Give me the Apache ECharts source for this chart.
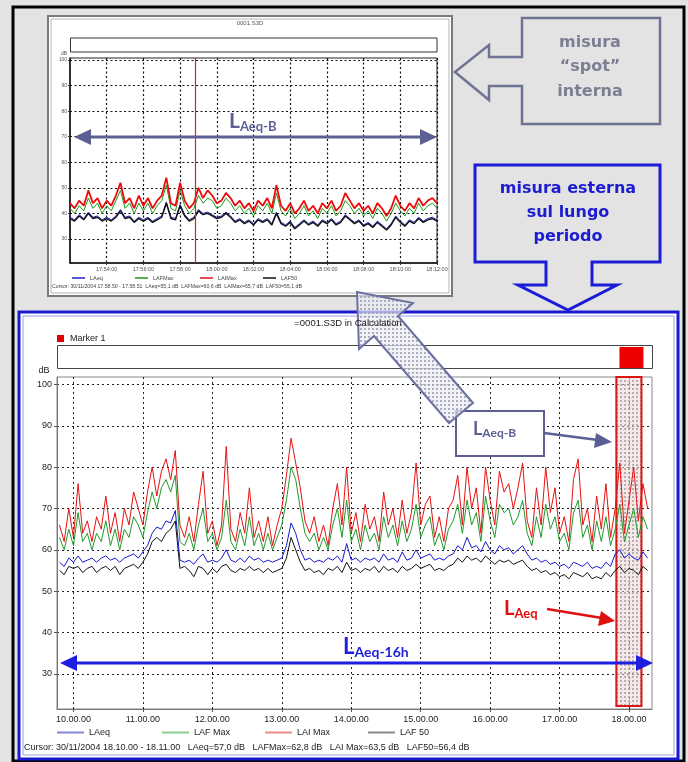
<!DOCTYPE html>
<html><head><meta charset="utf-8">
<script src="https://cdn.jsdelivr.net/npm/echarts@6/dist/echarts.min.js"></script>
<style>html,body{margin:0;padding:0;background:#e3e3e3}#c{width:688px;height:762px}</style>
</head><body><div id="c"></div>
<script>
// ---------- Bottom chart (long period) : minutes since midnight ----------
const bottomStartMin = 588, bottomStepMin = 4;
const bottomLAIMax = [66,62,70,63,76,64,67,62,68,65,73,64,69,62,70,66,
  74,70,66,74,80,73,79,82,77,84,
  66,63,68,62,71,79,64,67,61,66,
  85,65,62,69,64,75,63,67,62,68,61,66,
  70,78,87,81,75,67,64,68,62,66,61,70,
  76,66,80,64,69,62,71,65,68,62,
  74,66,70,63,72,64,69,81,66,71,
  73,63,68,62,70,72,78,66,80,70,
  75,64,80,72,66,79,74,76,70,75,
  81,67,63,75,66,80,69,75,64,68,
  62,77,82,66,70,62,73,65,76,63,
  70,81,64,72,80,67,76,70];
const bottomLAFMax = [63,60,65,61,69,62,64,60,64,62,67,61,65,60,65,63,
  68,66,63,69,74,70,75,77,74,78,
  62,61,64,60,66,70,62,64,60,63,
  72,62,60,65,61,68,61,64,60,64,60,63,
  66,72,80,77,70,64,62,64,60,63,60,66,
  70,63,72,62,65,60,66,62,64,60,
  68,63,66,61,67,62,65,71,63,66,
  68,61,64,60,65,67,71,64,72,66,
  69,62,73,67,63,71,69,70,66,68,
  72,64,61,68,63,71,65,68,62,64,
  60,69,72,63,66,60,67,62,68,61,
  65,71,62,66,70,63,68,65];
const bottomLAeq = [57,56,58,57,58.5,57,57.5,58,57,58,58.5,57.5,58,57,58,58.5,
  59,58,59.5,61,64,65.5,65,67,66.5,69.5,
  57.5,57,57.5,56.5,58,59,57,57.5,57,58,
  60,57.5,57,58,57,58.5,57.5,58,57,57.5,57,57.5,
  58,61,66.5,64,60,57.5,58,57,57.5,57,58,57.5,
  58.5,57,61.5,57.5,58,57,58,57.5,58,57,
  59,57.5,58,57,59.5,57.5,58,60,58,58.5,
  59,57.5,58,57.5,58.5,59,61,60,63,60.5,
  61,59.5,62,60,59,61,60,60.5,59,60,
  61,59,57.5,58,57,57.5,56.5,57,56,56.5,
  55.5,57,56.5,56,57,55.5,56,55.5,57,56,
  59,60,58,59,58,57.5,59.5,58];
const bottomLAF50 = [55,54,56,55.5,56,54.5,55.5,56,54.5,55.5,56,55,56,54,55.5,56,
  56.5,55.5,57,59,62,63,62,64,65,67,
  55.5,56,55,53.5,56,55.5,54,55.5,54.5,56,
  56.5,55,54.5,55.5,55,56,55,55.5,54.5,55.5,54.5,55,
  55.5,58,63,60,57,55,55.5,54.5,55,54,55.5,55,
  56,54.5,57,55,55.5,54.5,55.5,55,56,54.5,
  56,55,55.5,54.5,56,55,55.5,56.5,55.5,56,
  56.5,55,55.5,55,56,56.5,58,57,58.5,57.5,
  58,57,58.5,57.5,56.5,57.5,57,57.5,56.5,57,
  57.5,56,55,55.5,54.5,55,54,54.5,53.5,54,
  53,54.5,54,53.5,54.5,53,53.5,53,54.5,53.5,
  55,56,54.5,55.5,55,54,56,55];
const bottomXTickValues = [600,660,720,780,840,900,960,1020,1080];
const bottomXTickLabels = ['10.00.00','11.00.00','12.00.00','13.00.00','14.00.00','15.00.00','16.00.00','17.00.00','18.00.00'];
const yTickValues = [30,40,50,60,70,80,90,100];
const bottomMarkerRange = [1069, 1090.7];      // hatched marker area (minutes)
const bottomMarkerBlock = [1071.7, 1092.4];    // red block in marker bar
const bottomLegendNames = ['LAeq','LAF Max','LAI Max','LAF 50'];
const topLegendNames = ['LAeq','LAFMax','LAIMax','LAF50'];

// ---------- Top chart (spot) : minutes since 17:52:00, 15 s step ----------
const topStepMin = 0.25;
const topLAIMax = [44,42,45,43,49,44,46,42,45,43,47,52,44,46,42,47,43,46,42,45,47,54,44,43,52,45,42,44,50,46,49,47,44,45,48,46,43,45,42,44,41,45,43,46,42,51,43,41,44,40,42,45,41,43,40,44,42,45,41,43,48,45,42,44,41,43,40,44,42,39,42,47,43,41,44,42,46,43,45,46,44];
const topLAFMax = [42,40,43,41,46,42,44,40,43,41,45,49,42,44,40,44,41,44,40,43,45,51,42,41,49,43,40,42,47,44,46,45,42,43,46,44,41,43,40,42,39,43,41,44,40,48,41,39,42,38,40,43,39,41,38,42,40,43,39,41,45,43,40,42,39,41,38,42,40,37,40,44,41,39,42,40,44,41,43,44,42];
const topLAeq = [38.5,37.5,39.5,38,40.5,38.5,39,37.5,38.5,37.5,39,41.5,38.5,39,37,38.5,37.5,38.5,37,38,39,44.5,38.5,38,43.5,39.5,37.5,38.5,41.5,40,40.5,39.5,38.5,39,40.5,39,37,38,36.5,37.5,36,38,37,38,36,40.5,36.5,35.5,37,34.5,36,37.5,36,37,35.5,37.5,36.5,38,36,37,39.5,38,36.5,37.5,35.5,36.5,35,37,35.5,34,36,39,37,35.5,37.5,36.5,38.5,37,38,38.5,37.5];
const topLAF50 = [38,37,39,37.5,40,38,38.5,37,38,37,38.5,41,38,38.5,36.5,38,37,38,36.5,37.5,38.5,44,38,37.5,43,39,37,38,41,39.5,40,39,38,38.5,40,38.5,36.5,37.5,36,37,35.5,37.5,36.5,37.5,35.5,40,36,35,36.5,34,35.5,37,35.5,36.5,35,37,36,37.5,35.5,36.5,39,37.5,36,37,35,36,34.5,36.5,35,33.5,35.5,38.5,36.5,35,37,36,38,36.5,37.5,38,37];
const topXTickValues = [2,4,6,8,10,12,14,16,18,20];
const topXTickLabels = ['17:54:00','17:56:00','17:58:00','18:00:00','18:02:00','18:04:00','18:06:00','18:08:00','18:10:00','18:12:00'];
const topCursorMin = 6.83;

// ---------- helpers ----------
function pairs(start, step, arr){ return arr.map((v,i)=>[start+i*step, v]); }
function pattern(bg, dot){
  const c=document.createElement('canvas'); c.width=4; c.height=4;
  const g=c.getContext('2d'); g.fillStyle=bg; g.fillRect(0,0,4,4);
  g.fillStyle=dot; g.fillRect(0,0,2,2);
  return {image:c, repeat:'repeat'};
}
const hatchGray = pattern('rgba(236,236,242,0.7)','rgba(160,162,185,0.85)');
const hatchRed = pattern('rgba(238,214,214,0.55)','rgba(140,140,140,0.6)');

const F = 'Liberation Sans, Arial, sans-serif';
const A = 'Lato, DejaVu Sans, sans-serif';
const C = 'DejaVu Sans, Lato, sans-serif';
const slate = '#5c5f94', blue = '#1c1cd2', grayTxt = '#7c7f91';

const chart = echarts.init(document.getElementById('c'), null, {width:688, height:762});

function subText(x, y, big, small, color, fb, fs){
  return [
    {type:'text', z:60, style:{text:big, x:x, y:y, fill:color, font:'bold '+fb+'px '+A, verticalAlign:'top'}},
    {type:'text', z:60, style:{text:small, x:x+fb*0.52, y:y+fb*0.42, fill:color, font:'bold '+fs+'px '+A, verticalAlign:'top'}}
  ];
}

const baseGraphics = [
  {type:'rect', z:-20, shape:{x:13,y:7,width:671,height:754}, style:{fill:'#e3e3e3', stroke:'#000', lineWidth:3}},
  {type:'rect', z:-10, shape:{x:48,y:16,width:404,height:280}, style:{fill:'#fff', stroke:'#7a7a7a', lineWidth:2}},
  {type:'rect', z:-9, shape:{x:51,y:19,width:398,height:274}, style:{fill:'#fff', stroke:'#b5b5b5', lineWidth:1}},
  {type:'rect', z:-10, shape:{x:19,y:312,width:659,height:447}, style:{fill:'#fff', stroke:'#1a1ad0', lineWidth:3}},
  {type:'rect', z:-9, shape:{x:23,y:316,width:651,height:439}, style:{fill:'#fff', stroke:'#9aa0e0', lineWidth:1}},
  {type:'rect', z:1, shape:{x:70.5,y:38,width:366.5,height:14}, style:{fill:'#fff', stroke:'#333', lineWidth:1}},
  {type:'rect', z:1, shape:{x:57.5,y:345.5,width:595,height:23}, style:{fill:'#fff', stroke:'#444', lineWidth:1}},
  {type:'text', z:5, style:{text:'0001.S3D', x:250, y:23, fill:'#555', font:'6px '+F, align:'center', verticalAlign:'middle'}},
  {type:'text', z:5, style:{text:'dB', x:64, y:54, fill:'#555', font:'5px '+F, align:'center', verticalAlign:'middle'}},
  {type:'text', z:5, style:{text:'Cursor: 30/11/2004 17.58.50 - 17.58.51  LAeq=55,1 dB  LAFMax=60,6 dB  LAIMax=65,7 dB  LAF50=55,1 dB', x:52, y:287, fill:'#444', font:'5.2px '+F, verticalAlign:'middle'}},
  {type:'text', z:58, style:{text:'=0001.S3D in Calculation', x:348, y:323, fill:'#222', font:'9.5px '+F, align:'center', verticalAlign:'middle'}},
  {type:'rect', z:5, shape:{x:57,y:335,width:7,height:7}, style:{fill:'#e00000'}},
  {type:'text', z:5, style:{text:'Marker 1', x:70, y:339, fill:'#222', font:'9px '+F, verticalAlign:'middle'}},
  {type:'text', z:5, style:{text:'dB', x:44, y:371, fill:'#222', font:'9px '+F, align:'center', verticalAlign:'middle'}},
  {type:'text', z:5, style:{text:'Cursor: 30/11/2004 18.10.00 - 18.11.00   LAeq=57,0 dB   LAFMax=62,8 dB   LAI Max=63,5 dB   LAF50=56,4 dB', x:24, y:748, fill:'#222', font:'9px '+F, verticalAlign:'middle'}},
  {type:'polygon', z:3, shape:{points:[[522,18],[660,18],[660,124],[522,124],[522,86],[489,86],[489,100],[455,72],[489,45],[489,57],[522,57]]}, style:{fill:'#e3e3e3', stroke:'#6f7393', lineWidth:2.5}},
  {type:'text', z:4, style:{text:'misura', x:590, y:43, fill:grayTxt, font:'bold 16px '+C, align:'center', verticalAlign:'middle'}},
  {type:'text', z:4, style:{text:'\u201Cspot\u201D', x:590, y:67, fill:grayTxt, font:'bold 16px '+C, align:'center', verticalAlign:'middle'}},
  {type:'text', z:4, style:{text:'interna', x:590, y:92, fill:grayTxt, font:'bold 16px '+C, align:'center', verticalAlign:'middle'}},
  {type:'polygon', z:3, shape:{points:[[475,165],[660,165],[660,262],[592,262],[592,285],[617,285],[568,310],[518,285],[546,285],[546,262],[475,262]]}, style:{fill:'#e3e3e3', stroke:'#1c1cd6', lineWidth:3}},
  {type:'text', z:4, style:{text:'misura esterna', x:568, y:189, fill:blue, font:'bold 16px '+C, align:'center', verticalAlign:'middle'}},
  {type:'text', z:4, style:{text:'sul lungo', x:568, y:213, fill:blue, font:'bold 16px '+C, align:'center', verticalAlign:'middle'}},
  {type:'text', z:4, style:{text:'periodo', x:568, y:237, fill:blue, font:'bold 16px '+C, align:'center', verticalAlign:'middle'}},
  {type:'line', z:50, shape:{x1:86,y1:137,x2:425,y2:137}, style:{stroke:slate, lineWidth:3}},
  {type:'polygon', z:50, shape:{points:[[74,137],[91,129],[91,145]]}, style:{fill:slate}},
  {type:'polygon', z:50, shape:{points:[[437,137],[420,129],[420,145]]}, style:{fill:slate}},
  {type:'line', z:50, shape:{x1:72,y1:663,x2:641,y2:663}, style:{stroke:'#1e1ee0', lineWidth:3}},
  {type:'polygon', z:50, shape:{points:[[60,663],[77,655],[77,671]]}, style:{fill:'#1e1ee0'}},
  {type:'polygon', z:50, shape:{points:[[653,663],[636,655],[636,671]]}, style:{fill:'#1e1ee0'}},
  {type:'rect', z:50, shape:{x:456,y:411,width:88,height:45}, style:{fill:'#fff', stroke:slate, lineWidth:2}},
  {type:'line', z:50, shape:{x1:544,y1:433,x2:598,y2:440}, style:{stroke:slate, lineWidth:2.5}},
  {type:'polygon', z:50, shape:{points:[[612,442],[596,433],[594,448]]}, style:{fill:slate}},
  {type:'line', z:50, shape:{x1:547,y1:609,x2:602,y2:618}, style:{stroke:'#e01010', lineWidth:2.5}},
  {type:'polygon', z:50, shape:{points:[[615,621],[601,611],[598,626]]}, style:{fill:'#e01010'}},
  {type:'polygon', z:55, shape:{points:[[357,292],[413,303],[398,316],[473,403],[449,423],[374,336],[359,349]]}, style:{fill:hatchGray, stroke:'#6c70a0', lineWidth:2}}
]
.concat(subText(229,111,'L','Aeq-B',slate,21,13))
.concat(subText(473,420,'L','Aeq-B',slate,18,12))
.concat(subText(343,636,'L','Aeq-16h','#1e1ee0',22,14))
.concat(subText(504,599,'L','Aeq','#e01010',20,13));

const gridLine = {show:true, lineStyle:{color:'#222', type:[2,3], width:1}};

// one legend component per item so each sits where the reference puts it
const topLegendColors = ['#2020c0','#1a9a1a','#e01010','#111'];
const topLegendLeft = [72,135,200,263];
const bottomLegendColors = ['#8486d8','#8ccc8c','#f08a8a','#8a8a8a'];
const bottomLegendLeft = [57,162,265,368];
const legends = [];
topLegendNames.forEach((n,i)=>legends.push({left:topLegendLeft[i], top:275, padding:0, itemWidth:13, itemHeight:1.5, icon:'rect', selectedMode:false,
  textStyle:{fontSize:5.5, color:'#444', fontFamily:F}, data:[{name:n, itemStyle:{color:topLegendColors[i]}}]}));
bottomLegendNames.forEach((n,i)=>legends.push({left:bottomLegendLeft[i], top:728, padding:0, itemWidth:27, itemHeight:2, icon:'rect', selectedMode:false,
  textStyle:{fontSize:9, color:'#222', fontFamily:F}, data:[{name:n, itemStyle:{color:bottomLegendColors[i]}}]}));

const option = {
  animation:false,
  backgroundColor:'#e3e3e3',
  grid:[
    {left:70, top:58, width:367, height:205, show:true, borderColor:'#222', borderWidth:1, backgroundColor:'#fff'},
    {left:57, top:377, width:595, height:332, show:true, borderColor:'#888', borderWidth:1, backgroundColor:'#fff'}
  ],
  xAxis:[
    {type:'value', gridIndex:0, min:0, max:20,
     axisLine:{lineStyle:{color:'#111', width:1.5}},
     axisTick:{show:true, length:2, customValues:topXTickValues, lineStyle:{color:'#333'}},
     axisLabel:{customValues:topXTickValues, margin:3, fontSize:5.5, color:'#555', fontFamily:F,
       formatter:v=>topXTickLabels[topXTickValues.indexOf(v)] || ''},
     splitLine:{show:true, lineStyle:{color:'#111', type:[2,2.5], width:1.2}}},
    {type:'value', gridIndex:1, min:585.8, max:1099.8,
     axisLine:{lineStyle:{color:'#777', width:1}},
     axisTick:{show:true, length:3, customValues:bottomXTickValues, lineStyle:{color:'#555'}},
     axisLabel:{customValues:bottomXTickValues, margin:6, fontSize:9, color:'#222', fontFamily:F,
       formatter:v=>bottomXTickLabels[bottomXTickValues.indexOf(v)] || ''},
     splitLine:gridLine}
  ],
  yAxis:[
    {type:'value', gridIndex:0, min:20.6, max:100.8,
     axisLine:{show:true, lineStyle:{color:'#111', width:1.5}},
     axisTick:{show:true, length:2, customValues:yTickValues, lineStyle:{color:'#333'}},
     axisLabel:{customValues:yTickValues, margin:3, fontSize:5, color:'#555', fontFamily:F},
     splitLine:{show:true, lineStyle:{color:'#111', type:[2,2.5], width:1.2}}},
    {type:'value', gridIndex:1, min:21.5, max:101.8,
     axisLine:{show:true, lineStyle:{color:'#777', width:1}},
     axisTick:{show:true, length:3, customValues:yTickValues, lineStyle:{color:'#555'}},
     axisLabel:{customValues:yTickValues, margin:5, fontSize:9, color:'#222', fontFamily:F},
     splitLine:gridLine}
  ],
  legend:legends,
  series:[
    {name:'LAeq', type:'line', xAxisIndex:0, yAxisIndex:0, showSymbol:false, data:pairs(0,topStepMin,topLAeq), lineStyle:{color:'#2020c0', width:1}, itemStyle:{color:'#2020c0'}},
    {name:'LAFMax', type:'line', xAxisIndex:0, yAxisIndex:0, showSymbol:false, data:pairs(0,topStepMin,topLAFMax), lineStyle:{color:'#1a9a1a', width:1}, itemStyle:{color:'#1a9a1a'}},
    {name:'LAIMax', type:'line', xAxisIndex:0, yAxisIndex:0, showSymbol:false, data:pairs(0,topStepMin,topLAIMax), lineStyle:{color:'#ee0a0a', width:1.8}, itemStyle:{color:'#ee0a0a'},
     markLine:{silent:true, symbol:'none', label:{show:false}, lineStyle:{color:'#c03030', width:1.2, type:'solid'}, data:[{xAxis:topCursorMin}]}},
    {name:'LAF50', type:'line', xAxisIndex:0, yAxisIndex:0, showSymbol:false, data:pairs(0,topStepMin,topLAF50), lineStyle:{color:'#111', width:1.4}, itemStyle:{color:'#111'}},

    {name:'LAI Max', type:'line', xAxisIndex:1, yAxisIndex:1, showSymbol:false, data:pairs(bottomStartMin,bottomStepMin,bottomLAIMax), lineStyle:{color:'#e81010', width:1}, itemStyle:{color:'#e81010'}},
    {name:'LAF Max', type:'line', xAxisIndex:1, yAxisIndex:1, showSymbol:false, data:pairs(bottomStartMin,bottomStepMin,bottomLAFMax), lineStyle:{color:'#1f9a2a', width:1}, itemStyle:{color:'#1f9a2a'}},
    {name:'LAF 50', type:'line', xAxisIndex:1, yAxisIndex:1, showSymbol:false, data:pairs(bottomStartMin,bottomStepMin,bottomLAF50), lineStyle:{color:'#111', width:1}, itemStyle:{color:'#111'}},
    {name:'LAeq', type:'line', xAxisIndex:1, yAxisIndex:1, showSymbol:false, data:pairs(bottomStartMin,bottomStepMin,bottomLAeq), lineStyle:{color:'#1818cc', width:1}, itemStyle:{color:'#1818cc'}},
    {name:'marker', type:'line', xAxisIndex:1, yAxisIndex:1, z:8, showSymbol:false, data:[], lineStyle:{opacity:0},
     markArea:{silent:true, itemStyle:{color:hatchRed, borderColor:'#dd1515', borderWidth:2},
       data:[[{xAxis:bottomMarkerRange[0], yAxis:22.2},{xAxis:bottomMarkerRange[1], yAxis:101.8}]]}}
  ],
  graphic:{elements:baseGraphics}
};
chart.setOption(option);

const p0 = chart.convertToPixel({xAxisIndex:1}, bottomMarkerBlock[0]);
const p1 = chart.convertToPixel({xAxisIndex:1}, bottomMarkerBlock[1]);
chart.setOption({graphic:{elements:baseGraphics.concat([
  {type:'rect', z:2, shape:{x:p0, y:347, width:p1-p0, height:21}, style:{fill:'#ee0000'}}
])}});
</script></body></html>
